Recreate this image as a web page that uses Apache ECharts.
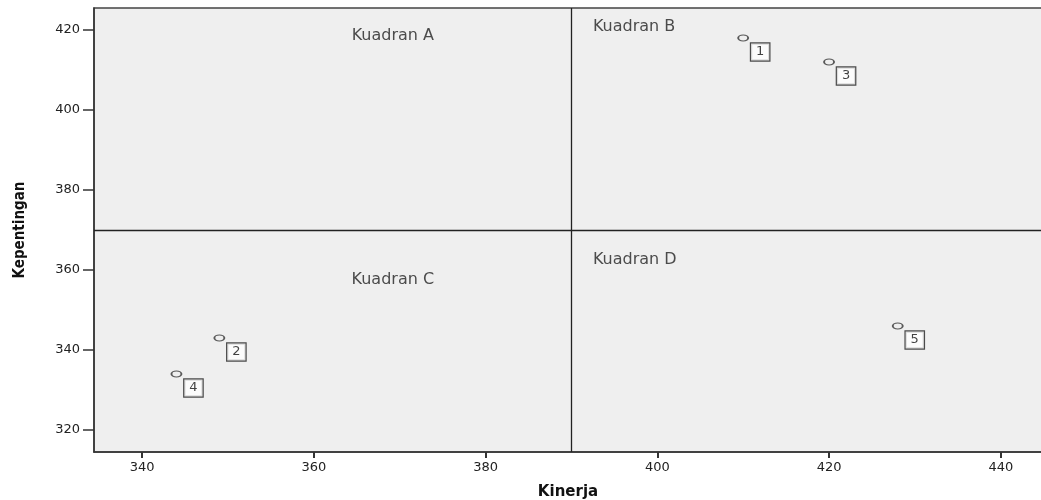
<!DOCTYPE html>
<html>
<head>
<meta charset="utf-8">
<script src="https://cdn.jsdelivr.net/npm/echarts@6/dist/echarts.min.js"></script>
<style>
  html, body { margin: 0; padding: 0; background: #fff; }
  #chart { width: 1041px; height: 500px; }
</style>
</head>
<body>
<div id="chart"></div>
<script>
// titik-titik atribut (Kinerja, Kepentingan)
var pointIds = ["1", "2", "3", "4", "5"];
var kinerja = [410, 349, 420, 344, 428];
var kepentingan = [418, 343, 412, 334, 346];

// garis pembagi kuadran
var meanKinerja = 390;
var meanKepentingan = 370;

// label kuadran: [nama, x, y, rata]
var quadNames = ["Kuadran A", "Kuadran B", "Kuadran C", "Kuadran D"];
var quadX = [369.2, 392.5, 369.2, 392.5];
var quadY = [418.6, 420.8, 357.5, 362.5];
var quadAlign = ["center", "left", "center", "left"];

var xTicks = [340, 360, 380, 400, 420, 440];
var yTicks = [320, 340, 360, 380, 400, 420];

var chart = echarts.init(document.getElementById("chart"));

var points = pointIds.map(function (id, i) {
  return { value: [kinerja[i], kepentingan[i]], name: id };
});

var quadData = quadNames.map(function (n, i) {
  return {
    value: [quadX[i], quadY[i]],
    name: n,
    label: { align: quadAlign[i] },
  };
});

var axisText = { color: "#222", fontSize: 13, fontFamily: "DejaVu Sans" };

var option = {
  animation: false,
  grid: {
    left: 94,
    top: 8,
    right: -1,
    bottom: 48,
    outerBoundsMode: "none",
    containLabel: false,
    show: true,
    backgroundColor: "#efefef",
    borderColor: "#444",
    borderWidth: 1.5,
  },
  xAxis: {
    type: "value",
    min: 334.4,
    max: 444.8,
    name: "Kinerja",
    nameLocation: "middle",
    nameGap: 33,
    nameTextStyle: { fontSize: 15, fontWeight: "bold", color: "#111", fontFamily: "DejaVu Sans" },
    axisLine: { show: true, lineStyle: { color: "#333", width: 1.5 } },
    axisTick: { show: true, length: 6, customValues: xTicks, lineStyle: { color: "#333", width: 2 } },
    axisLabel: Object.assign({ customValues: xTicks, margin: 9 }, axisText),
    splitLine: { show: false },
  },
  yAxis: {
    type: "value",
    min: 314.5,
    max: 425.5,
    name: "Kepentingan",
    nameLocation: "middle",
    nameGap: 66,
    nameRotate: 90,
    nameTextStyle: { fontSize: 15, fontWeight: "bold", color: "#111", fontFamily: "Liberation Sans Narrow, DejaVu Sans Condensed, sans-serif" },
    axisLine: { show: true, lineStyle: { color: "#333", width: 1.5 } },
    axisTick: { show: true, length: 11, customValues: yTicks, lineStyle: { color: "#333", width: 1.5 } },
    axisLabel: Object.assign({ customValues: yTicks, margin: 14 }, axisText),
    splitLine: { show: false },
  },
  series: [
    {
      type: "scatter",
      data: points,
      symbol: "circle",
      symbolSize: [10, 6],
      itemStyle: { color: "rgba(0,0,0,0)", borderColor: "#333", borderWidth: 1.5 },
      label: {
        show: true,
        formatter: "{b}",
        position: "inside",
        offset: [17, 14],
        fontSize: 13,
        fontFamily: "DejaVu Sans",
        color: "#111",
        backgroundColor: "#fff",
        borderColor: "#222",
        borderWidth: 1.2,
        padding: [3, 5, 1, 5],
      },
      markLine: {
        silent: true,
        symbol: ["none", "none"],
        label: { show: false },
        lineStyle: { type: "solid", color: "#222", width: 1.3 },
        data: [{ xAxis: meanKinerja }, { yAxis: meanKepentingan }],
      },
      z: 3,
    },
    {
      type: "scatter",
      data: quadData,
      symbolSize: 0,
      silent: true,
      label: {
        show: true,
        formatter: "{b}",
        position: "inside",
        verticalAlign: "middle",
        fontSize: 16,
        fontFamily: "DejaVu Sans",
        color: "#222",
      },
      z: 2,
    },
  ],
};

chart.setOption(option);
</script>
</body>
</html>
